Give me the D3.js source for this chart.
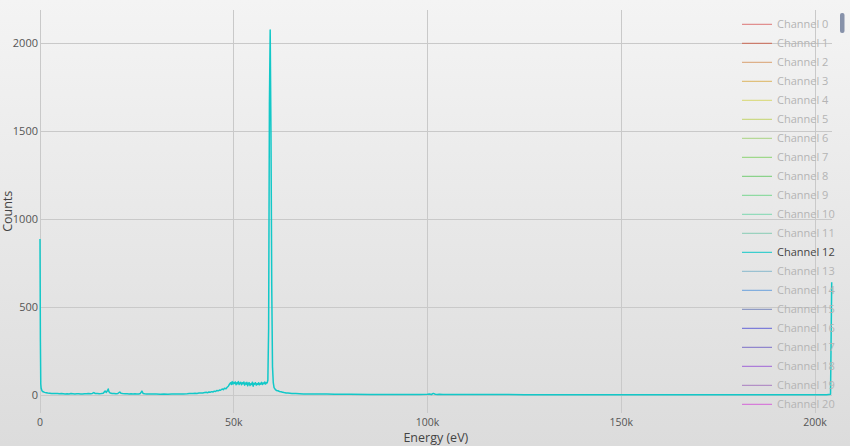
<!DOCTYPE html>
<html>
<head>
<meta charset="utf-8">
<script src="https://cdn.jsdelivr.net/npm/d3@7"></script>
<style>
html,body{margin:0;padding:0;}
body{width:850px;height:446px;overflow:hidden;background:linear-gradient(#f4f4f4,#dcdcdc);}
svg{display:block;font-family:"Open Sans","Noto Sans",sans-serif;}
</style>
</head>
<body>
<svg id="chart" width="850" height="446"></svg>
<script>
// ---- data ----
const energies = [
  0,100,200,300,500,800,1200,1600,2000,2500,3000,3500,4000,4500,5000,5500,6000,6500,7000,7500,
  8000,8500,9000,9500,10000,10500,11000,11500,12000,12500,13000,13500,13900,14300,14800,15300,15800,16300,16800,17100,
  17400,17600,17800,18100,18600,19100,19600,20100,20600,20900,21300,22000,22500,23000,23500,24000,24500,25000,25500,25900,
  26300,26600,27000,27500,28000,29000,30000,31000,32000,33000,34000,35000,36000,37000,38000,38500,39000,39500,40000,40500,
  41000,41500,42000,42500,43000,43300,43600,44000,44300,44600,45000,45300,45600,46000,46300,46600,47000,47300,47600,48000,
  48300,48600,48800,49000,49200,49400,49600,49800,50000,50200,50400,50600,50800,51000,51200,51400,51600,51800,52000,52200,
  52400,52600,52800,53000,53200,53400,53600,53800,54000,54200,54400,54600,54800,55000,55200,55400,55600,55800,56000,56200,
  56400,56600,56800,57000,57200,57400,57600,57800,58000,58200,58400,58600,58800,59000,59200,59400,59600,59800,60000,60200,
  60400,60700,61000,61400,61800,62200,62600,63000,63500,64000,64500,65000,66000,67000,68000,69000,70000,72000,74000,76000,
  78000,80000,85000,90000,95000,98000,100000,100500,101000,101500,102000,102500,103000,104000,105000,110000,115000,120000,125000,130000,
  135000,140000,145000,150000,155000,160000,165000,170000,175000,180000,185000,190000,195000,200000,203000,204000,204300
];
const counts = [
  886,310,62,38,24,18,15,13,11,10,9,8,9,8,7,8,7,6,7,6,
  8,7,6,7,7,6,6,7,7,8,7,9,14,8,8,7,8,10,22,15,
  24,34,18,11,9,8,7,9,17,10,8,7,7,6,7,6,7,6,6,9,
  22,9,7,6,5,5,5,4,5,4,5,5,6,6,7,8,8,9,10,9,
  11,12,12,14,15,13,17,16,19,17,22,20,25,24,28,27,34,30,38,36,
  44,50,58,64,70,60,76,62,72,66,74,58,70,64,76,60,68,72,58,70,
  64,74,56,68,62,72,52,66,70,54,64,60,72,50,66,62,70,56,64,60,
  70,58,66,62,72,60,68,64,74,62,70,68,84,380,1650,2074,1500,620,160,70,
  42,32,26,24,20,18,16,14,12,11,10,9,8,7,6,6,5,5,5,4,
  4,4,3,3,3,3,4,6,3,9,4,3,4,3,3,3,3,3,2,2,
  2,2,2,2,2,2,2,2,2,2,2,2,2,2,2,4,640
];
const xTicks = [0, 50000, 100000, 150000, 200000];
const xTickLabels = ["0", "50k", "100k", "150k", "200k"];
const yTicks = [0, 500, 1000, 1500, 2000];
const yTickLabels = ["0", "500", "1000", "1500", "2000"];
const channels = ["Channel 0","Channel 1","Channel 2","Channel 3","Channel 4","Channel 5","Channel 6","Channel 7","Channel 8","Channel 9","Channel 10","Channel 11","Channel 12","Channel 13","Channel 14","Channel 15","Channel 16","Channel 17","Channel 18","Channel 19","Channel 20"];
const channelColors = ["#dc7676","#cc6a55","#d9a070","#dcb460","#d8d870","#c4d46c","#a8d482","#8cd474","#74cc74","#78d690","#7cd8b0","#88ccb4","#12c8c8","#88b8cc","#6aa0dc","#7888bc","#6464d8","#7c70c8","#a064d8","#a87cc0","#d464d8"];
const activeChannel = 12;

// ---- chart ----
const svg = d3.select("#chart");
const x = d3.scaleLinear().domain([0, 204300]).range([40, 831.7]);
const y = d3.scaleLinear().domain([-100, 2187.5]).range([412.6, 10]);
const gridColor = "#c9c9c9";
const tickColor = "#555";

// grid
svg.append("g").selectAll("line").data(xTicks).join("line")
  .attr("x1", d => x(d)).attr("x2", d => x(d))
  .attr("y1", y.range()[1]).attr("y2", y.range()[0])
  .attr("stroke", gridColor).attr("stroke-width", 1).attr("shape-rendering","crispEdges");
svg.append("g").selectAll("line").data(yTicks).join("line")
  .attr("x1", x.range()[0]).attr("x2", x.range()[1])
  .attr("y1", d => y(d)).attr("y2", d => y(d))
  .attr("stroke", gridColor).attr("stroke-width", 1).attr("shape-rendering","crispEdges");

// tick labels
svg.append("g").selectAll("text").data(xTicks).join("text")
  .attr("x", d => x(d)).attr("y", 425.5)
  .attr("text-anchor", "middle").attr("font-size", 10.5).attr("fill", tickColor)
  .text((d, i) => xTickLabels[i]);
svg.append("g").selectAll("text").data(yTicks).join("text")
  .attr("x", 38).attr("y", d => y(d) + 4)
  .attr("text-anchor", "end").attr("font-size", 11).attr("fill", tickColor)
  .text((d, i) => yTickLabels[i]);

// axis titles
svg.append("text").attr("x", (x.range()[0] + x.range()[1]) / 2).attr("y", 441.5)
  .attr("text-anchor", "middle").attr("font-size", 12.5).attr("fill", "#444").text("Energy (eV)");
svg.append("text").attr("transform", "translate(12," + ((y.range()[0] + y.range()[1]) / 2) + ") rotate(-90)")
  .attr("text-anchor", "middle").attr("font-size", 12.5).attr("fill", "#444").text("Counts");

// spectrum
const data = energies.map((e, i) => [e, counts[i]]);
svg.append("path").datum(data)
  .attr("fill", "none").attr("stroke", channelColors[activeChannel]).attr("stroke-width", 1.5)
  .attr("stroke-linejoin", "round")
  .attr("d", d3.line().x(d => x(d[0])).y(d => y(d[1])));

// legend
const leg = svg.append("g");
const items = leg.selectAll("g").data(channels).join("g")
  .attr("transform", (d, i) => "translate(0," + (24.3 + i * 19) + ")");
items.append("line").attr("x1", 742).attr("x2", 772).attr("y1", 0).attr("y2", 0)
  .attr("stroke", (d, i) => channelColors[i]).attr("stroke-width", 1);
items.append("text").attr("x", 777).attr("y", 4)
  .attr("font-size", 11)
  .attr("fill", (d, i) => i === activeChannel ? "#444" : "#b4b4b4")
  .text(d => d);

// scrollbar
svg.append("rect").attr("x", 840).attr("y", 13).attr("width", 4.5).attr("height", 20)
  .attr("rx", 2).attr("fill", "#8792aa");
</script>
</body>
</html>
